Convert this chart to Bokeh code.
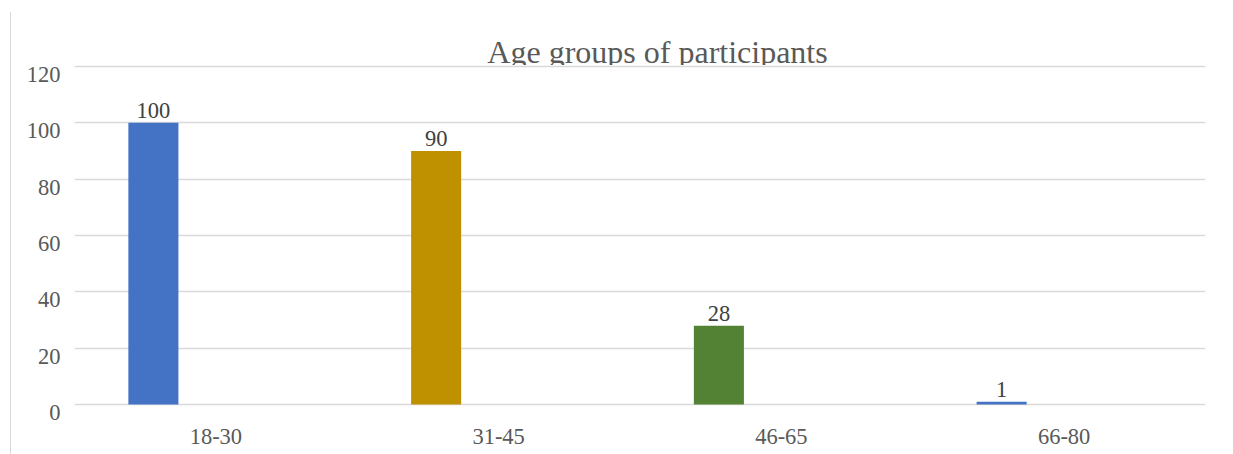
from bokeh.plotting import figure
from bokeh.models import ColumnDataSource, FixedTicker, Range1d, Div, LinearAxis
from bokeh.layouts import row
from bokeh.core.properties import value
from bokeh.transform import dodge
from bokeh.embed import file_html
from bokeh.resources import INLINE

# ---- data ----
title_text = "Age groups of participants"
age_groups = ["18-30", "31-45", "46-65", "66-80"]
participants = [100, 90, 28, 1]
bar_colors = ["#4472C4", "#BF9000", "#548235", "#4472C4"]
y_ticks = [0, 20, 40, 60, 80, 100, 120]

FONT = "Liberation Serif"
GRID = "#d9d9d9"

Y_START, Y_END = -3.55, 139.17
LABEL_SHIFT = 2.84  # tick labels sit just below their gridline

source = ColumnDataSource(dict(
    group=age_groups,
    count=participants,
    color=bar_colors,
    label=[str(v) for v in participants],
))

p = figure(
    x_range=age_groups,
    y_range=Range1d(Y_START, Y_END),
    width=1222, height=454,
    output_backend="svg", toolbar_location=None,
    min_border_left=63, min_border_right=28,
    min_border_top=12, min_border_bottom=40,
    background_fill_color="white", border_fill_color="white",
)
p.outline_line_color = None
p.extra_y_ranges = {"labels": Range1d(Y_START + LABEL_SHIFT, Y_END + LABEL_SHIFT)}

# title (drawn at lowest level so that the plot area clips its descenders)
title_src = ColumnDataSource(dict(x=[2.062], y=[120.9], t=[title_text]))
tr = p.text(x="x", y="y", text="t", source=title_src,
            text_font=value(FONT), text_font_size="32px",
            text_color="#595959", text_align="center",
            text_baseline="alphabetic", y_offset=-11.5)
tr.level = "image"
mask = p.quad(left=[0], right=[4], bottom=[118.3], top=[120.55],
              fill_color="white", line_color=None)
mask.level = "image"

# bars
p.vbar(x=dodge("group", -0.221, range=p.x_range), top="count", bottom=0,
       width=0.177, source=source, fill_color="color", line_color=None)

# data labels
p.text(x=dodge("group", -0.221, range=p.x_range), y="count", text="label",
       source=source, text_font=value(FONT), text_font_size="22.5px",
       text_color="#404040", text_align="center",
       text_baseline="alphabetic", y_offset=-12)

# y axis: main one hidden, labels drawn by an axis on a shifted range
p.yaxis.visible = False
lab_axis = LinearAxis(y_range_name="labels", ticker=FixedTicker(ticks=y_ticks))
lab_axis.axis_line_color = None
lab_axis.major_tick_line_color = None
lab_axis.minor_tick_line_color = None
lab_axis.major_label_standoff = 8
lab_axis.major_label_text_font = FONT
lab_axis.major_label_text_font_size = "22.5px"
lab_axis.major_label_text_color = "#595959"
p.add_layout(lab_axis, "left")

p.xaxis.axis_line_color = None
p.xaxis.major_tick_line_color = None
p.xaxis.major_label_standoff = 8
p.xaxis.major_label_text_font = FONT
p.xaxis.major_label_text_font_size = "22.5px"
p.xaxis.major_label_text_color = "#595959"

p.xgrid.grid_line_color = None
p.ygrid.ticker = FixedTicker(ticks=y_ticks)
p.ygrid.grid_line_color = GRID
p.ygrid.grid_line_width = 1.4

# left chart-area border
border = Div(
    text='<div style="position:absolute;left:10px;top:12px;width:1px;'
         'height:442px;background:#d9d9d9"></div>',
    width=11, height=454, margin=0,
)

layout = row(border, p, spacing=0)
open("out.html", "w").write(file_html(layout, INLINE))
